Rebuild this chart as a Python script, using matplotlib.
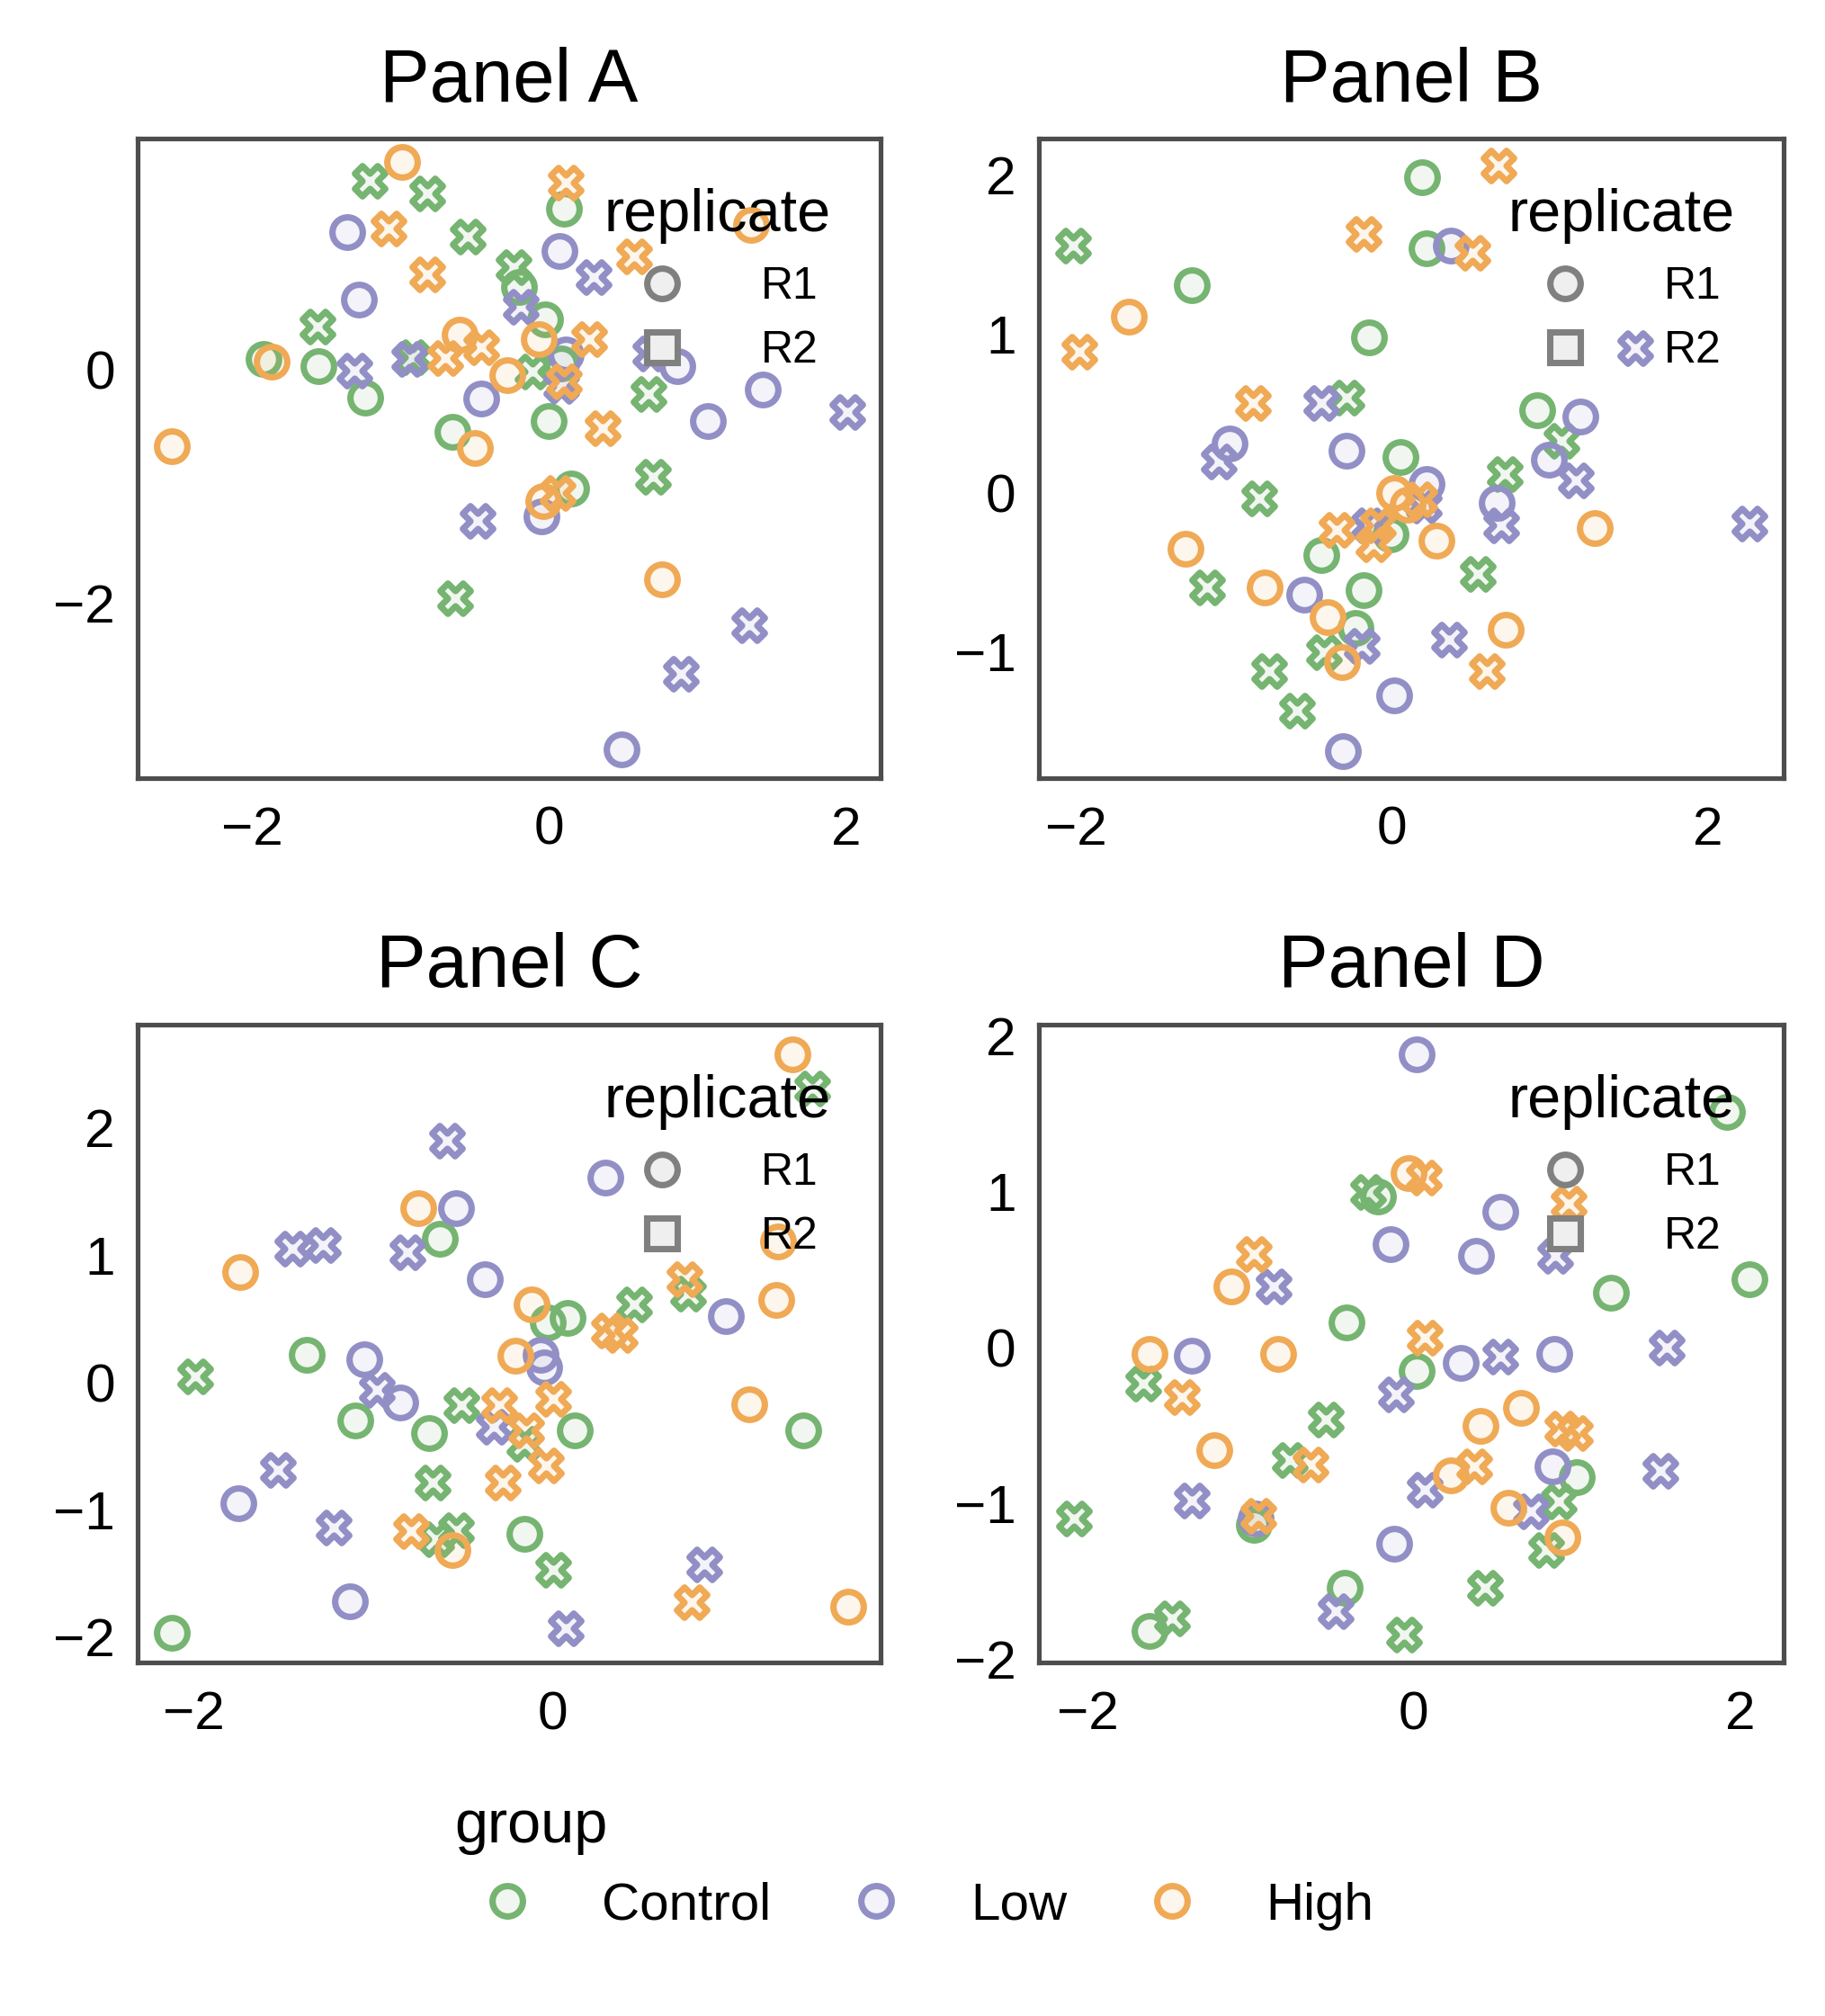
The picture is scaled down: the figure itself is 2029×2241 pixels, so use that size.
import matplotlib
matplotlib.use("Agg")
import matplotlib.pyplot as plt
from matplotlib.lines import Line2D
from matplotlib.colors import to_rgba

plt.rcParams['font.family'] = ['Liberation Sans', 'DejaVu Sans']

groups = ["Control", "Low", "High"]
group_colors = {"Control": "#76b471", "Low": "#918fc5", "High": "#f0a955"}
replicates = ["R1", "R2"]
rep_markers = {"R1": "o", "R2": "X"}

# every panel lists its points in the same order:
# Control R1, Control R2, Low R1, Low R2, High R1, High R2 (10 each)
point_group = (["Control"] * 20) + (["Low"] * 20) + (["High"] * 20)
point_rep = (["R1"] * 10 + ["R2"] * 10) * 3

a_x = [0.10, -0.20, -0.03, -1.92, -1.55, -1.24, 0.08, 0.00, -0.65, 0.15,
       -1.21, -0.82, -0.55, -0.24, -1.56, -0.92, -0.11, 0.67, 0.70, -0.63,
       -1.36, 0.07, -1.28, 0.11, 0.86, 1.44, 1.07, -0.46, -0.05, 0.49,
       0.30, -0.19, -1.31, -0.94, 0.08, 0.68, 2.01, -0.48, 1.35, 0.89,
       -0.99, 1.36, -1.87, -0.60, -0.28, -0.07, -0.50, -2.54, -0.04, 0.76,
       0.11, -1.08, 0.57, -0.82, -0.70, -0.46, 0.10, 0.27, 0.36, 0.06]
a_y = [1.38, 0.71, 0.43, 0.09, 0.03, -0.24, 0.05, -0.44, -0.53, -1.02,
       1.62, 1.51, 1.14, 0.88, 0.37, 0.11, -0.02, -0.21, -0.92, -1.96,
       1.18, 1.02, 0.60, 0.13, 0.03, -0.17, -0.44, -0.25, -1.26, -3.26,
       0.79, 0.54, -0.01, 0.09, -0.14, 0.14, -0.36, -1.30, -2.19, -2.61,
       1.78, 1.24, 0.07, 0.30, -0.05, 0.26, -0.67, -0.66, -1.13, -1.80,
       1.60, 1.21, 0.97, 0.82, 0.10, 0.19, -0.10, 0.26, -0.50, -1.06]

b_x = [0.19, 0.22, -1.27, -0.15, 0.92, 0.05, -0.01, -0.45, -0.18, -0.23,
       -2.02, -0.29, 1.07, 0.71, -0.84, 0.54, -1.17, -0.43, -0.78, -0.60,
       0.37, 1.19, -1.03, -0.29, 0.99, 0.22, 0.66, -0.56, 0.01, -0.31,
       1.54, -0.45, -1.10, 1.16, 0.69, 2.26, -0.19, 0.36, -0.15, 0.20,
       -1.67, 0.01, 0.10, 0.28, 1.28, -1.31, -0.81, -0.41, -0.32, 0.72,
       0.67, -0.18, 0.51, -1.98, -0.88, 0.17, -0.35, -0.09, -0.12, 0.60]
b_y = [1.99, 1.54, 1.31, 0.98, 0.52, 0.23, -0.26, -0.39, -0.61, -0.85,
       1.56, 0.60, 0.33, 0.12, -0.03, -0.51, -0.59, -1.00, -1.12, -1.37,
       1.56, 0.48, 0.31, 0.27, 0.21, 0.06, -0.06, -0.64, -1.27, -1.62,
       0.91, 0.57, 0.20, 0.08, -0.20, -0.19, -0.96, -0.92, -0.20, -0.08,
       1.11, 0.00, -0.07, -0.30, -0.22, -0.35, -0.59, -0.78, -1.06, -0.86,
       2.06, 1.63, 1.51, 0.89, 0.57, -0.04, -0.23, -0.20, -0.32, -1.12]

c_x = [-0.63, -0.03, 0.08, -1.37, -1.10, -0.69, 0.12, 1.39, -0.16, -2.12,
       1.44, 0.75, 0.45, -1.99, -0.51, -0.16, -0.67, -0.65, -0.54, 0.00,
       0.29, -0.54, -0.38, 0.96, -1.05, -0.07, -0.05, -0.85, -1.75, -1.13,
       -0.59, -1.45, -1.28, -0.81, -0.98, -0.33, -1.53, -1.22, 0.84, 0.07,
       1.33, -0.75, 1.25, -1.74, 1.24, -0.12, -0.21, 1.09, -0.56, 1.64,
       0.73, 0.31, 0.37, -0.30, 0.00, -0.15, -0.04, -0.28, -0.79, 0.77]
c_y = [1.13, 0.47, 0.51, 0.22, -0.30, -0.40, -0.38, -0.38, -1.19, -1.97,
       2.31, 0.70, 0.61, 0.05, -0.18, -0.48, -0.79, -1.23, -1.16, -1.47,
       1.61, 1.37, 0.81, 0.52, 0.18, 0.22, 0.12, -0.16, -0.95, -1.72,
       1.90, 1.05, 1.08, 1.02, -0.06, -0.35, -0.69, -1.14, -1.43, -1.93,
       2.58, 1.37, 1.11, 0.87, 0.65, 0.61, 0.21, -0.17, -1.32, -1.76,
       0.81, 0.41, 0.37, -0.18, -0.13, -0.38, -0.65, -0.79, -1.17, -1.73]

d_x = [1.92, -0.22, 2.06, 1.21, -0.41, 0.02, 1.00, -0.98, -0.42, -1.62,
       -0.28, -1.66, -0.54, -0.76, 0.89, -2.08, 0.81, 0.44, -1.48, -0.06,
       0.02, 0.53, -0.14, 0.38, -1.36, 0.29, 0.86, 0.85, -0.97, -0.12,
       0.87, -0.86, 1.55, 0.53, -0.11, 1.51, 0.07, 0.72, -1.36, -0.48,
       -0.03, -1.12, -1.62, -0.83, 0.66, 0.41, -1.22, 0.23, 0.58, 0.91,
       0.06, 0.95, -0.98, 0.07, -1.42, 0.91, 0.99, -0.63, 0.37, -0.95]
d_y = [1.51, 0.97, 0.44, 0.35, 0.16, -0.15, -0.83, -1.14, -1.54, -1.82,
       1.00, -0.23, -0.46, -0.72, -0.99, -1.10, -1.30, -1.54, -1.74, -1.84,
       1.88, 0.87, 0.66, 0.59, -0.05, -0.10, -0.04, -0.76, -1.10, -1.26,
       0.59, 0.39, 0.00, -0.06, -0.30, -0.79, -0.91, -1.05, -0.98, -1.69,
       1.12, 0.39, -0.04, -0.04, -0.39, -0.50, -0.66, -0.82, -1.03, -1.22,
       1.09, 0.92, 0.60, 0.06, -0.32, -0.52, -0.55, -0.75, -0.76, -1.08]

panel_titles = ["Panel A", "Panel B", "Panel C", "Panel D"]
panel_xs = [a_x, b_x, c_x, d_x]
panel_ys = [a_y, b_y, c_y, d_y]
panel_xlims = [(-2.77, 2.23), (-2.24, 2.48), (-2.31, 1.82), (-2.30, 2.27)]
panel_ylims = [(-3.50, 1.98), (-1.79, 2.23), (-2.20, 2.81), (-2.02, 2.07)]
panel_xticks = [[-2, 0, 2], [-2, 0, 2], [-2, 0], [-2, 0, 2]]
panel_yticks = [[-2, 0], [-1, 0, 1, 2], [-2, -1, 0, 1, 2], [-2, -1, 0, 1, 2]]

W, H = 2029, 2241
fig = plt.figure(figsize=(W / 300, H / 300), dpi=300)

# axes boxes in figure fraction (left, bottom, width, height)
boxes = [(0.0754, 0.6142, 0.4070, 0.3170),
         (0.5690, 0.6142, 0.4085, 0.3170),
         (0.0754, 0.1754, 0.4070, 0.3163),
         (0.5690, 0.1754, 0.4085, 0.3163)]

ms = 8.1   # marker diameter in points
mew = 1.7

for i in range(4):
    ax = fig.add_axes(boxes[i])
    xs, ys = panel_xs[i], panel_ys[i]
    for g in groups:
        for r in replicates:
            px = [x for x, gg, rr in zip(xs, point_group, point_rep) if gg == g and rr == r]
            py = [y for y, gg, rr in zip(ys, point_group, point_rep) if gg == g and rr == r]
            ax.scatter(px, py, s=ms ** 2, marker=rep_markers[r],
                       facecolor=to_rgba(group_colors[g], 0.1),
                       edgecolor=group_colors[g], linewidth=mew, zorder=3)
    ax.set_xlim(panel_xlims[i])
    ax.set_ylim(panel_ylims[i])
    ax.set_xticks(panel_xticks[i])
    ax.set_yticks(panel_yticks[i])
    ax.tick_params(length=0, labelsize=14.5)
    ax.tick_params(axis="x", pad=7.5)
    ax.tick_params(axis="y", pad=6)
    for sp in ax.spines.values():
        sp.set_color("#4d4d4d")
        sp.set_linewidth(1.25)
    ax.set_title(panel_titles[i], fontsize=20, pad=10)

    rep_handles = [Line2D([], [], ls="", marker="o", markersize=ms, mew=mew,
                          mec="#808080", mfc="#efefef"),
                   Line2D([], [], ls="", marker="s", markersize=ms, mew=mew,
                          mec="#808080", mfc="#efefef")]
    ax.legend(rep_handles, replicates, title="replicate", loc="upper right",
              frameon=False, fontsize=12, title_fontsize=16,
              handletextpad=1.2, labelspacing=0.5, borderaxespad=0.7)

group_handles = [Line2D([], [], ls="", marker="o", markersize=ms, mew=mew,
                        mec=group_colors[g], mfc=to_rgba(group_colors[g], 0.1))
                 for g in groups]
fig.legend(group_handles, groups, title="group", loc="center",
           bbox_to_anchor=(0.501, 0.075), ncol=3, frameon=False,
           fontsize=14, title_fontsize=16, alignment="left",
           columnspacing=1.0)

fig.savefig("out.png", dpi=300)
